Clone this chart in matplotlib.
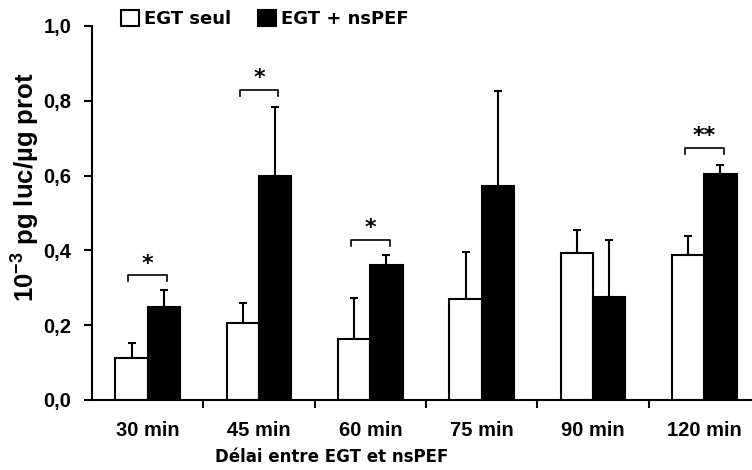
import matplotlib
matplotlib.use("Agg")
import matplotlib.pyplot as plt
import numpy as np
from matplotlib.patches import Patch

categories = ["30 min", "45 min", "60 min", "75 min", "90 min", "120 min"]
seul = [0.112, 0.206, 0.163, 0.270, 0.393, 0.388]
seul_err = [0.040, 0.053, 0.109, 0.126, 0.062, 0.051]
ns = [0.249, 0.599, 0.361, 0.572, 0.276, 0.605]
ns_err = [0.045, 0.184, 0.027, 0.254, 0.152, 0.024]
sig = ["*", "*", "*", "", "", "**"]
sig_y = [0.334, 0.829, 0.428, None, None, 0.674]

plt.rcParams["mathtext.fontset"] = "custom"
plt.rcParams["mathtext.rm"] = "Liberation Sans:bold"
plt.rcParams["mathtext.bf"] = "Liberation Sans:bold"
plt.rcParams["mathtext.it"] = "Liberation Sans:bold"

fig = plt.figure(figsize=(7.52, 4.70), dpi=100)
W, H = 752, 470
x0, x1 = 92, 760
y0, y1 = 400, 26
ax = fig.add_axes([x0 / W, 1 - y0 / H, (x1 - x0) / W, (y0 - y1) / H])

x = np.arange(len(categories))
bw = 0.29
ax.bar(x - bw / 2, seul, bw, color="white", edgecolor="black", linewidth=1.5, zorder=2)
ax.bar(x + bw / 2, ns, bw, color="black", edgecolor="black", linewidth=1.5, zorder=2)
ax.errorbar(x - bw / 2, seul, yerr=[np.zeros(len(seul)), seul_err], fmt="none",
            ecolor="black", elinewidth=1.5, capsize=3, capthick=1.5, zorder=1)
ax.errorbar(x + bw / 2, ns, yerr=[np.zeros(len(ns)), ns_err], fmt="none",
            ecolor="black", elinewidth=1.5, capsize=3, capthick=1.5, zorder=1)

for i, (s, yy) in enumerate(zip(sig, sig_y)):
    if not s:
        continue
    xl, xr = i - bw / 2 - 0.03, i + bw / 2 + 0.03
    ax.plot([xl, xl, xr, xr], [yy - 0.017, yy, yy, yy - 0.017], color="black", lw=1.2)
    ax.text(i, yy + 0.004, s, ha="center", va="bottom", fontsize=16,
            fontweight="bold", family="DejaVu Sans")

ax.set_xlim(-0.5, len(categories) - 0.5)
ax.set_ylim(0, 1.0)
ax.set_yticks(np.arange(0, 1.01, 0.2))
ax.set_yticklabels([f"{v:.1f}".replace(".", ",") for v in np.arange(0, 1.01, 0.2)],
                   fontsize=14.5, fontweight="bold", family="Liberation Sans")
ax.set_xticks(x)
ax.set_xticklabels(categories, fontsize=14.5, fontweight="bold", family="Liberation Sans")
ax.tick_params(axis="x", length=0, pad=15)
ax.set_xticks(np.arange(0.5, len(categories) - 0.5, 1), minor=True)
ax.tick_params(axis="x", which="minor", length=6, width=1.5, direction="out")
ax.tick_params(axis="y", length=6, width=1.5, direction="out", pad=9)
for sp in ["top", "right"]:
    ax.spines[sp].set_visible(False)
for sp in ["left", "bottom"]:
    ax.spines[sp].set_linewidth(1.5)

ax.set_ylabel("10$^{-3}$ pg luc/µg prot", fontsize=18.5, fontweight="bold",
              family="Liberation Sans")
ax.yaxis.set_label_coords(-(x0 - 26) / (x1 - x0), (y0 - 187) / (y0 - y1))
ax.yaxis.label.set_va("center")
fig.text(332 / W, 1 - 457 / H, "Délai entre EGT et nsPEF", ha="center", va="center",
         fontsize=12, fontweight="bold", family="DejaVu Sans")

handles = [Patch(facecolor="white", edgecolor="black", linewidth=1.5, label="EGT seul"),
           Patch(facecolor="black", edgecolor="black", linewidth=1.5, label="EGT + nsPEF")]
fig.legend(handles=handles, loc="upper left", bbox_to_anchor=(114 / W, 1 - 3 / H),
           ncol=2, frameon=False, handlelength=1.0, handleheight=1.0,
           handletextpad=0.25, columnspacing=1.5, borderaxespad=0,
           prop={"family": "DejaVu Sans", "weight": "bold", "size": 13})

fig.savefig("out.png", dpi=100)
